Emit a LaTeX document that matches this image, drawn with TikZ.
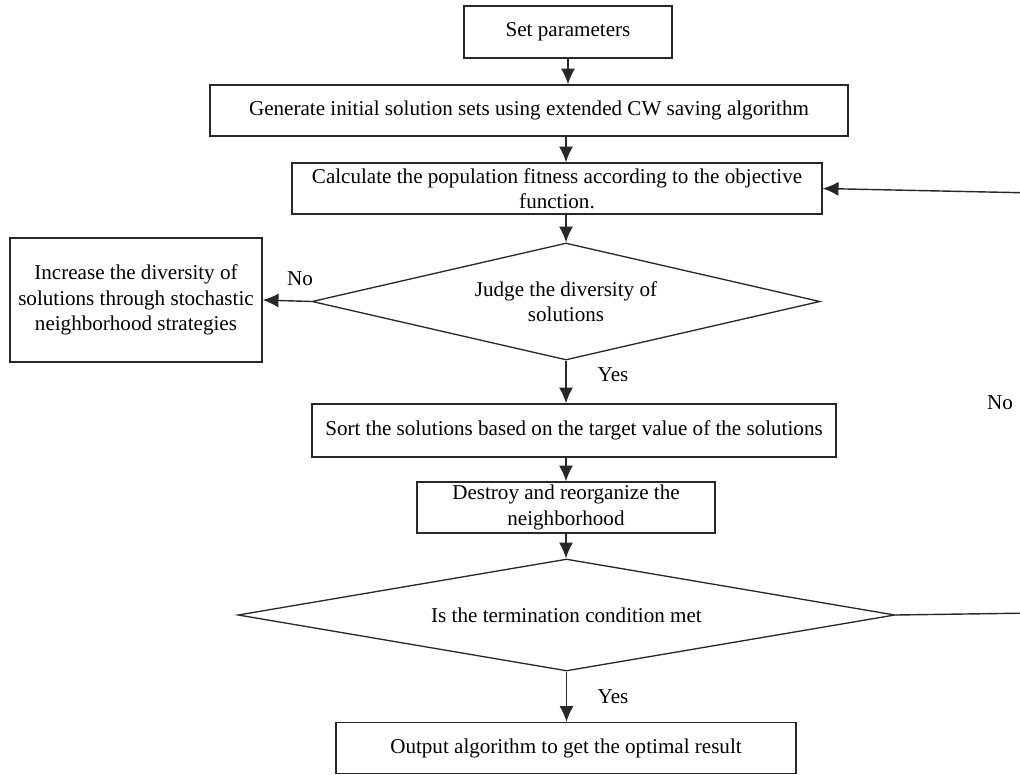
\documentclass[tikz,border=0pt]{standalone}
\usepackage{fontspec}
\setmainfont{Liberation Serif}
\usetikzlibrary{shapes.geometric,arrows.meta}
\definecolor{lineGray}{RGB}{40,40,40}

\begin{document}
\begin{tikzpicture}[%
	every node/.style={
		font=\fontsize{12}{14.5}\selectfont,
		align=center,
	},
	stepbox/.style={draw=lineGray, line width=0.75pt, rectangle, inner sep=0pt},
	decision/.style={draw=lineGray, line width=0.75pt, diamond, aspect=4.3, inner sep=0pt},
	flow/.style={draw=lineGray, line width=0.8pt, -{Latex[length=9pt,width=8pt]}},
	]
	\useasboundingbox (0,0) rectangle (20.4,-15.5);
	
	% draw process boxes
	\node[stepbox, minimum width=4.16cm, minimum height=1.04cm] (param) at (11.36,-0.64) {Set parameters};
	\node[stepbox, minimum width=12.76cm, minimum height=1.02cm] (init) at (10.58,-2.21) {Generate initial solution sets using extended CW saving algorithm};
	\node[stepbox, minimum width=10.6cm, minimum height=1.02cm] (fit) at (11.14,-3.77) {Calculate the population fitness according to the objective\\function.};
	\node[stepbox, minimum width=5.04cm, minimum height=2.48cm] (div) at (2.72,-6.0) {Increase the diversity of\\solutions through stochastic\\neighborhood strategies};
	\node[stepbox, minimum width=10.48cm, minimum height=1.06cm] (sort) at (11.48,-8.61) {Sort the solutions based on the target value of the solutions};
	\node[stepbox, minimum width=5.96cm, minimum height=1.02cm] (destroy) at (11.32,-10.15) {Destroy and reorganize the\\neighborhood};
	\node[stepbox, minimum width=9.2cm, minimum height=1.02cm] (output) at (11.32,-14.96) {Output algorithm to get the optimal result};
	
	% draw decisions
	\node[decision, minimum width=10.16cm, minimum height=2.34cm] (judge) at (11.32,-6.03) {Judge the diversity of\\solutions};
	\node[decision, minimum width=13.14cm, minimum height=2.24cm] (term) at (11.33,-12.3) {Is the termination condition met};
	
	% loop back (runs past the right edge)
	\coordinate (fbB) at (20.7,-12.26);
	\coordinate (fbT) at (20.7,-3.86);
	
	% draw arrows
	\draw[flow] (param.south) -- (param.south |- init.north);
	\draw[flow] (judge.north |- init.south) -- (judge.north |- fit.north);
	\draw[flow] (judge.north |- fit.south) -- (judge.north);
	\draw[flow] (judge.south) -- (judge.south |- sort.north);
	\draw[flow] (destroy.north |- sort.south) -- (destroy.north);
	\draw[flow] (destroy.south) -- (destroy.south |- term.north);
	\draw[flow] (term.south) -- (term.south |- output.north);
	\draw[flow] (judge.west) -- (div.east);
	\draw[flow] (term.east) -- (fbB) -- (fbT) -- (fit.east);
	
	% place branch labels
	\node (noLeft) at (6.0,-5.58) {No};
	\node (yesJudge) at (12.26,-7.5) {Yes};
	\node (noRight) at (20.0,-8.06) {No};
	\node (yesTerm) at (12.26,-13.94) {Yes};
\end{tikzpicture}
\end{document}
